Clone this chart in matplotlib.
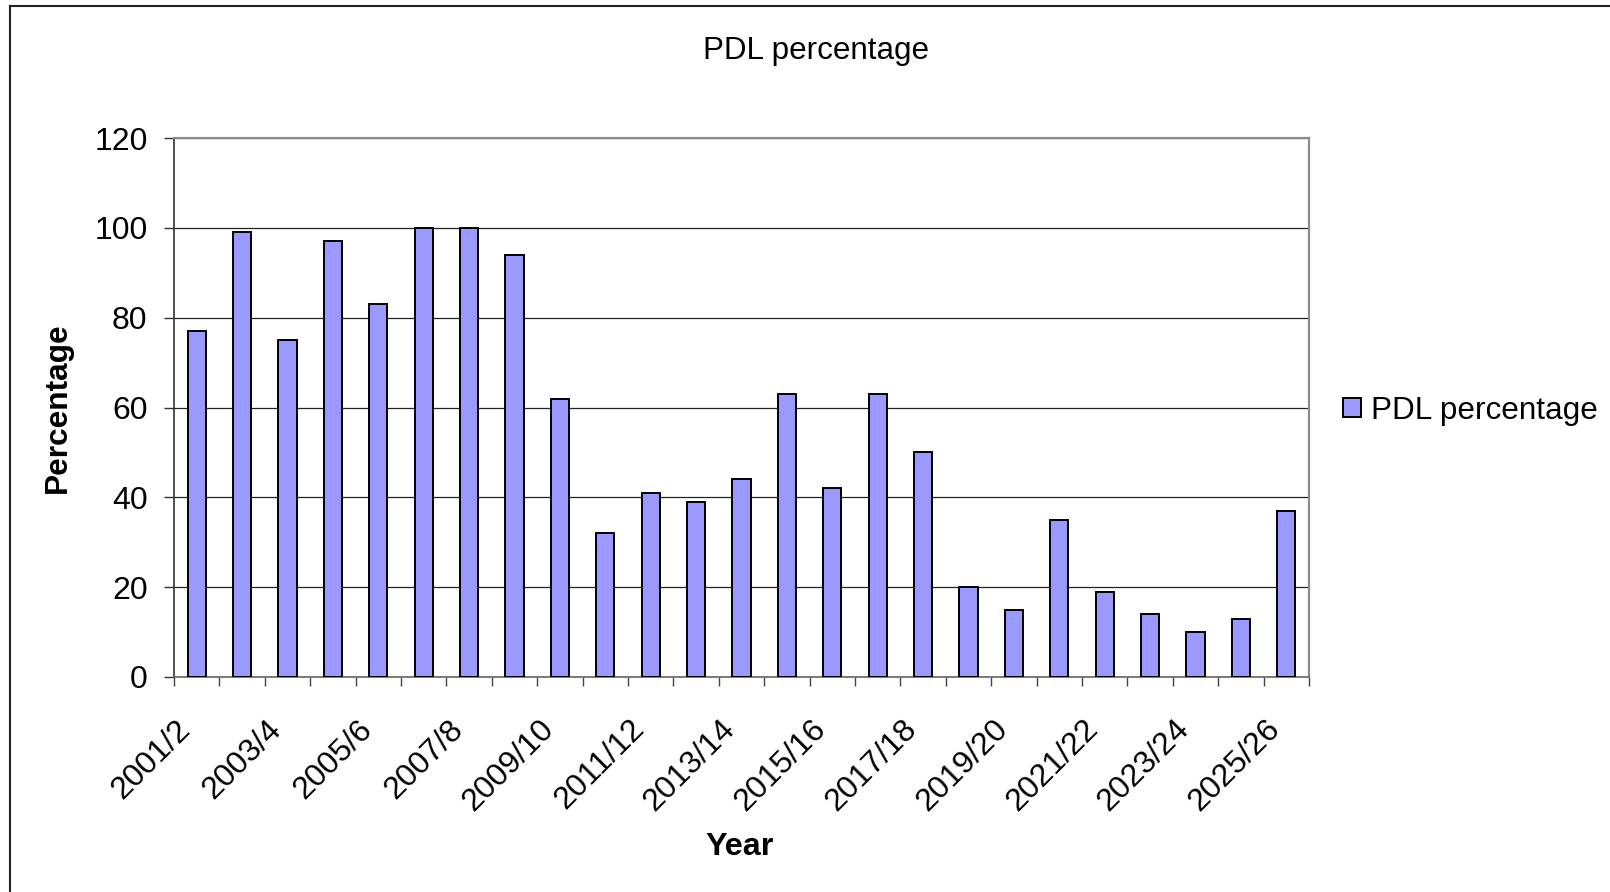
import matplotlib
matplotlib.use("Agg")
import matplotlib.pyplot as plt
from matplotlib.lines import Line2D
import numpy as np

plt.rcParams['font.family'] = ['Liberation Sans', 'DejaVu Sans']

# Financial years and PDL percentage per year
years = ["2001/2", "2002/3", "2003/4", "2004/5", "2005/6", "2006/7", "2007/8",
         "2008/9", "2009/10", "2010/11", "2011/12", "2012/13", "2013/14",
         "2014/15", "2015/16", "2016/17", "2017/18", "2018/19", "2019/20",
         "2020/21", "2021/22", "2022/23", "2023/24", "2024/25", "2025/26"]
pdl_percentage = [77, 99, 75, 97, 83, 100, 100, 94, 62, 32, 41, 39, 44,
                  63, 42, 63, 50, 20, 15, 35, 19, 14, 10, 13, 37]
y_ticks = [0, 20, 40, 60, 80, 100, 120]

W, H = 1610, 892
fig = plt.figure(figsize=(W / 100, H / 100), dpi=100)
fig.patch.set_facecolor("white")

ax = fig.add_axes([174 / W, 1 - 677 / H, (1309 - 174) / W, (677 - 138) / H])

x = np.arange(len(years))
bar_color = "#9999FF"
ax.bar(x, pdl_percentage, width=0.4, color=bar_color, edgecolor="black",
       linewidth=1.4, zorder=3, label="PDL percentage")

ax.set_xlim(-0.5, len(years) - 0.5)
ax.set_ylim(0, 120)
ax.set_yticks(y_ticks)
ax.yaxis.grid(True, color="#222222", linewidth=0.9, zorder=0)
ax.set_axisbelow(True)

# Tick marks sit between categories; labels on every other category
ax.set_xticks(np.arange(len(years) + 1) - 0.5)
ax.set_xticklabels([])
ax.set_xticks(x[::2], [years[i] for i in x[::2]], minor=True)
ax.tick_params(axis="x", which="major", length=6.5, width=1.0,
               color="#444444", direction="out")
ax.tick_params(axis="x", which="minor", length=0, pad=42, labelsize=23)
for lbl in ax.get_xticklabels(minor=True):
    lbl.set_rotation(45)
    lbl.set_ha("right")
    lbl.set_va("bottom")
    lbl.set_rotation_mode("anchor")

ax.tick_params(axis="y", length=7, width=1.0, color="#333333",
               direction="out", pad=12, labelsize=23)

for side in ("top", "right"):
    ax.spines[side].set_color("#8c8c8c")
    ax.spines[side].set_linewidth(1.6)
ax.spines["left"].set_color("#333333")
ax.spines["left"].set_linewidth(1.2)
ax.spines["bottom"].set_color("#666666")
ax.spines["bottom"].set_linewidth(1.2)

# Titles
fig.text(816 / W, 1 - 59 / H, "PDL percentage", ha="center", va="baseline",
         fontsize=22.6)
fig.text(740 / W, 1 - 855 / H, "Year", ha="center", va="baseline",
         fontsize=23.2, fontweight="bold")
fig.text(58 / W, 1 - 408 / H, "Percentage", ha="center", va="center",
         rotation=90, fontsize=22.8, fontweight="bold")

# Legend
ax.legend(loc="center left", bbox_to_anchor=(1343 / W, 1 - 411 / H),
          bbox_transform=fig.transFigure, frameon=False, fontsize=22.7,
          handlelength=0.56, handleheight=0.56, handletextpad=0.32,
          borderpad=0, borderaxespad=0)

# Chart area border
fig.add_artist(Line2D([10 / W, 10 / W], [0, 1 - 6 / H],
                      transform=fig.transFigure, color="#222222", linewidth=1.5))
fig.add_artist(Line2D([10 / W, 1], [1 - 6 / H, 1 - 6 / H],
                      transform=fig.transFigure, color="#222222", linewidth=1.5))

fig.savefig("out.png", dpi=100, facecolor="white")
